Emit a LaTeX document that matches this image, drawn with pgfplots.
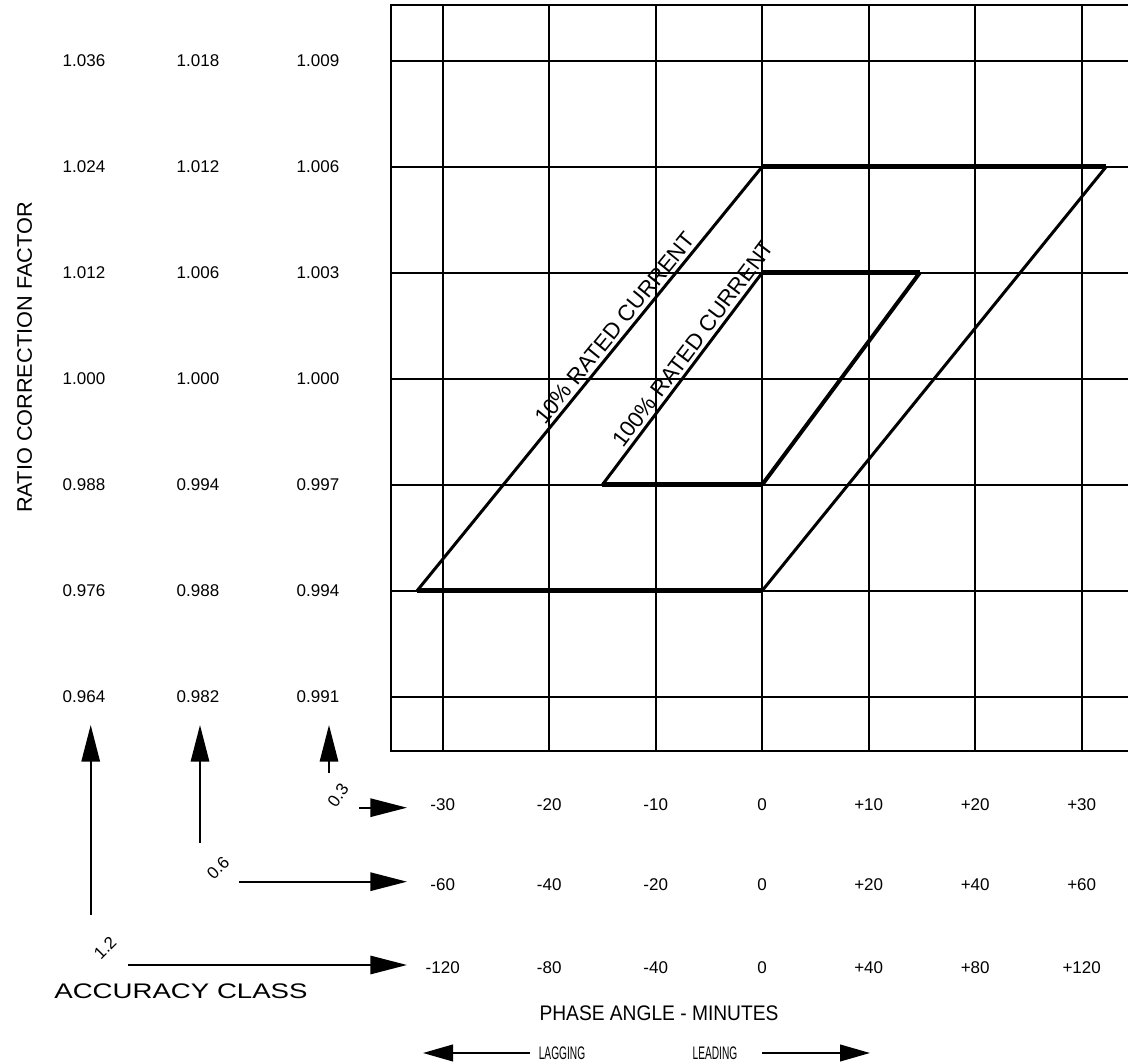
\documentclass[border=0pt]{standalone}
\usepackage{pgfplots}
\pgfplotsset{compat=1.18}
\usepackage{fontspec}
\setmainfont{Liberation Sans}
\usetikzlibrary{arrows.meta}
\begin{document}
\begin{tikzpicture}[x=0.3mm,y=0.3mm]
\useasboundingbox (0,0) rectangle (1128,1063);
\begin{axis}[at={(117.15mm,93.6mm)}, anchor=south west, scale only axis,
  width=226.53mm, height=223.83mm,
  xmin=-34.9, xmax=36, ymin=0.989463, ymax=1.010579,
  xtick={-30,-20,-10,0,10,20,30},
  ytick={0.991,0.994,0.997,1.000,1.003,1.006,1.009},
  xticklabels={}, yticklabels={}, major tick length=0pt,
  grid=major, grid style={black, line width=0.6mm},
  axis line style={black, line width=0.6mm}, clip=false]
% 10% rated current
\addplot[black, line width=1.35mm] coordinates {(-32.4,0.994) (0,0.994)};
\addplot[black, line width=0.9mm] coordinates {(-32.4,0.994) (0,1.006)}
  node[pos=0.6, sloped, above, inner sep=0.9mm, font=\fontsize{19}{21}\selectfont] {10\% RATED CURRENT};
\addplot[black, line width=0.9mm] coordinates {(0,0.994) (32.3,1.006)};
\addplot[black, line width=1.35mm] coordinates {(0,1.006) (32.3,1.006)};
% 100% rated current
\addplot[black, line width=1.35mm] coordinates {(-15,0.997) (0,0.997)};
\addplot[black, line width=0.9mm] coordinates {(-15,0.997) (0,1.003)}
  node[pos=0.63, sloped, above, inner sep=0.9mm, font=\fontsize{19}{21}\selectfont] {100\% RATED CURRENT};
\addplot[black, line width=1.2mm] coordinates {(0,0.997) (14.8,1.003)};
\addplot[black, line width=1.35mm] coordinates {(0,1.003) (14.8,1.003)};
\end{axis}
\begin{scope}[shift={(0,1063)}, yscale=-1]
\tikzset{num/.style={font=\fontsize{14.5}{16}\selectfont, inner sep=0pt}}
\foreach \y/\a/\b/\c in {60.7/1.036/1.018/1.009, 166.7/1.024/1.012/1.006, 272.7/1.012/1.006/1.003, 378.7/1.000/1.000/1.000, 484.7/0.988/0.994/0.997, 590.7/0.976/0.988/0.994, 696.7/0.964/0.982/0.991}{
  \node[num] at (84,\y) {\a};
  \node[num] at (198,\y) {\b};
  \node[num] at (318,\y) {\c};
}
\foreach \x/\a/\b/\c in {442.7/-30/-60/-120, 549.2/-20/-40/-80, 655.7/-10/-20/-40, 762.2/0/0/0, 868.7/+10/+20/+40, 975.2/+20/+40/+80, 1081.7/+30/+60/+120}{
  \node[num] at (\x,805) {\a};
  \node[num] at (\x,885) {\b};
  \node[num] at (\x,968) {\c};
}
% arrows
\tikzset{big/.style={line width=0.6mm, -{Triangle[length=11mm,width=5.5mm]}}}
\draw[big] (90.7,915) -- (90.7,725);
\draw[big] (200,843) -- (200,725);
\draw[big] (329,773) -- (329,725);
\draw[big] (359,807.7) -- (407,807.7);
\draw[big] (239,881.7) -- (407,881.7);
\draw[big] (128,965) -- (407,965);
\tikzset{small/.style={line width=0.6mm, -{Triangle[length=9mm,width=5mm]}}}
\draw[small] (530,1053) -- (423,1053);
\draw[small] (762,1053) -- (870,1053);
% class labels
\node[num, rotate=55] at (338,795) {0.3};
\node[num, rotate=45] at (218,868) {0.6};
\node[num, rotate=45] at (105,948) {1.2};
% titles
\node[font=\fontsize{18}{20}\selectfont, inner sep=0pt, rotate=90, xscale=1.03] at (24.7,357.5) {RATIO CORRECTION FACTOR};
\node[font=\fontsize{18}{20}\selectfont, inner sep=0pt, xscale=1.31] at (181,991) {ACCURACY CLASS};
\node[font=\fontsize{18}{20}\selectfont, inner sep=0pt, xscale=0.91] at (659,1013) {PHASE ANGLE - MINUTES};
\node[font=\fontsize{15.5}{17}\selectfont, inner sep=0pt, xscale=0.56] at (562,1053) {LAGGING};
\node[font=\fontsize{15.5}{17}\selectfont, inner sep=0pt, xscale=0.56] at (715,1053) {LEADING};
\end{scope}
\end{tikzpicture}
\end{document}
